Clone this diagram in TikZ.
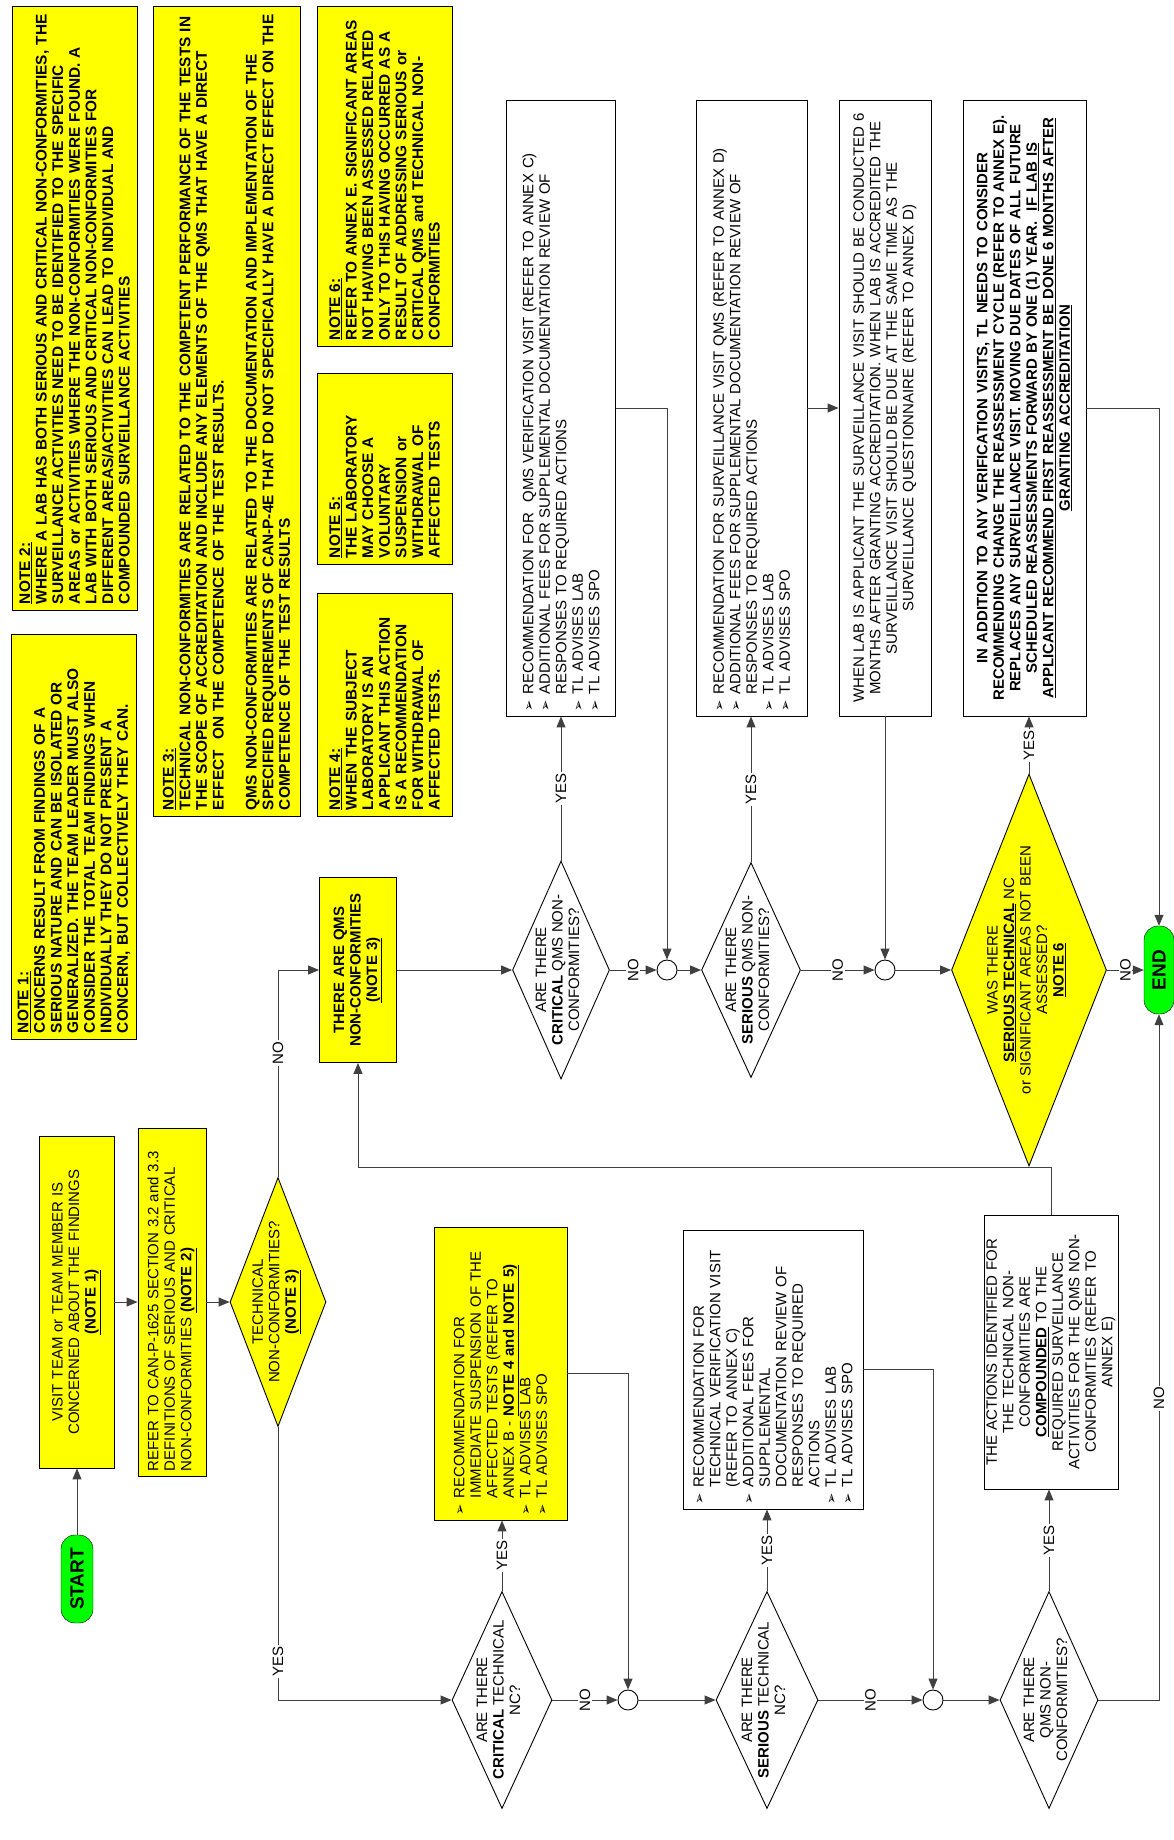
\documentclass[tikz,border=0pt]{standalone}
\usepackage{fontspec}
\setmainfont{Liberation Sans}
\newfontfamily\dingfont{DejaVu Sans}
\usetikzlibrary{arrows.meta,shapes.geometric}
\definecolor{noteyellow}{RGB}{255,255,0}
\definecolor{termgreen}{RGB}{0,255,0}
\newcommand\txt{\fontsize{15}{16.5}\selectfont}
\newcommand\notetxt{\fontsize{15.4}{16.6}\selectfont}
\newcommand\bitem{\makebox[17pt][l]{\dingfont\fontsize{13.5}{13.5}\selectfont ➢}}
\newcommand\bind{\hspace*{17pt}}
\newcommand\dtext[1]{\raisebox{-0.25em}{\smash{\makebox[0pt]{\begin{tabular}{@{}c@{}}#1\end{tabular}}}}}
\tikzset{every node/.append style={font=\txt}}
\tikzset{
  dims/.style 2 args={minimum height=#1, minimum width=#2},
  flowbox/.style={draw, rotate=90, inner sep=5pt, line width=0.9pt},
  notebox/.style={flowbox, fill=noteyellow, align=left, font=\notetxt\bfseries, inner sep=6pt},
  decision/.style={diamond, draw, rotate=90, inner sep=0pt, line width=0.9pt},
  terminal/.style={draw, fill=termgreen, rounded corners=14pt, rotate=90, inner sep=0pt,
    font=\fontsize{19}{19}\selectfont\bfseries},
  junction/.style={circle, draw, minimum size=20pt, inner sep=0pt, line width=0.9pt},
  flow/.style={draw=black!75, line width=1pt},
  arr/.style={flow, -{Triangle[length=11pt,width=9pt]}},
  answer/.style={fill=white, rotate=90, inner sep=1.5pt},
}

\begin{document}
\begin{tikzpicture}[x=1pt,y=-1pt]
\useasboundingbox[fill=white] (0,0) rectangle (1174,1840);

% notes
\node[notebox, dims={125}{604}, text width=592] (note2) at (74.5,308) {\underline{NOTE 2:}\\
WHERE A LAB HAS BOTH SERIOUS AND CRITICAL NON-CONFORMITIES, THE\\
SURVEILLANCE ACTIVITIES NEED TO BE IDENTIFIED TO THE SPECIFIC\\
AREAS or ACTIVITIES WHERE THE NON-CONFORMITIES WERE FOUND.  A\\
LAB WITH BOTH SERIOUS AND CRITICAL NON-CONFORMITIES FOR\\
DIFFERENT AREAS/ACTIVITIES CAN LEAD TO INDIVIDUAL AND\\
COMPOUNDED SURVEILLANCE ACTIVITIES};
\node[notebox, dims={124}{405}, text width=393] (note1) at (74,836.5) {\underline{NOTE 1:}\\
CONCERNS RESULT FROM FINDINGS OF A\\
SERIOUS NATURE AND CAN BE ISOLATED OR\\
GENERALIZED.  THE TEAM LEADER MUST ALSO\\
CONSIDER THE TOTAL TEAM FINDINGS WHEN\\
INDIVIDUALLY THEY DO NOT PRESENT A\\
CONCERN, BUT COLLECTIVELY THEY CAN.};
\node[notebox, dims={147}{810}, text width=798] (note3) at (226.5,411) {\underline{NOTE 3:}\\
TECHNICAL NON-CONFORMITIES ARE RELATED TO THE COMPETENT PERFORMANCE OF THE TESTS IN\\
THE SCOPE OF ACCREDITATION AND INCLUDE ANY ELEMENTS OF THE QMS THAT HAVE A DIRECT\\
EFFECT\ \ ON THE COMPETENCE OF THE TEST RESULTS.\\
\strut\\
QMS NON-CONFORMITIES ARE RELATED TO THE DOCUMENTATION AND IMPLEMENTATION OF THE\\
SPECIFIED REQUIREMENTS OF CAN-P-4E THAT DO NOT SPECIFICALLY HAVE A DIRECT EFFECT ON THE\\
COMPETENCE OF THE TEST RESULTS};
\node[notebox, dims={135}{340}, text width=328] (note6) at (384.5,176) {\underline{NOTE 6:}\\
REFER TO ANNEX E.  SIGNIFICANT AREAS\\
NOT HAVING BEEN ASSESSED RELATED\\
ONLY TO THIS HAVING OCCURRED AS A\\
RESULT OF ADDRESSING SERIOUS or\\
CRITICAL QMS and TECHNICAL NON-\\
CONFORMITIES};
\node[notebox, dims={135}{191}, text width=179] (note5) at (384.5,468.5) {\underline{NOTE 5:}\\
THE LABORATORY\\
MAY CHOOSE A\\
VOLUNTARY\\
SUSPENSION or\\
WITHDRAWAL OF\\
AFFECTED TESTS};
\node[notebox, dims={135}{223}, text width=211] (note4) at (384.5,704.5) {\underline{NOTE 4:}\\
WHEN THE SUBJECT\\
LABORATORY IS AN\\
APPLICANT THIS ACTION\\
IS A RECOMMENDATION\\
FOR WITHDRAWAL OF\\
AFFECTED TESTS.};

% start column
\node[terminal, dims={32}{88}] (start) at (77,1579) {START};
\node[flowbox, fill=noteyellow, dims={75}{332}, text width=322, align=center] (visit) at (76.5,1302)
  {VISIT TEAM or TEAM MEMBER IS\\ CONCERNED ABOUT THE FINDINGS\\ \textbf{\underline{(NOTE 1)}}};
\node[flowbox, fill=noteyellow, dims={68}{348}, text width=338, align=left] (refer) at (172,1302)
  {REFER TO CAN-P-1625 SECTION 3.2 and 3.3\\ DEFINITIONS OF SERIOUS AND CRITICAL\\ NON-CONFORMITIES \textbf{\underline{(NOTE 2)}}};
\node[decision, fill=noteyellow, dims={96}{249}] (tech) at (278,1302)
  {\dtext{TECHNICAL\\ NON-CONFORMITIES?\\ \textbf{\underline{(NOTE 3)}}}};

% technical branch
\node[decision, dims={100}{217}] (ctech) at (502,1700)
  {\dtext{ARE THERE\\ \textbf{CRITICAL} TECHNICAL\\ NC?}};
\node[flowbox, fill=noteyellow, dims={133}{293}, text width=283, align=left] (susp) at (500.5,1373.5)
  {\bitem RECOMMENDATION FOR\\ \bind IMMEDIATE SUSPENSION OF THE\\ \bind AFFECTED TESTS (REFER TO\\
   \bind ANNEX B - \textbf{\underline{NOTE 4 and NOTE 5)}}\\ \bitem TL ADVISES LAB\\ \bitem TL ADVISES SPO};
\node[junction] (j1) at (628,1700) {};
\node[decision, dims={102}{217}] (stech) at (767,1700)
  {\dtext{ARE THERE\\ \textbf{SERIOUS} TECHNICAL\\ NC?}};
\node[flowbox, dims={180}{279}, text width=269, align=left] (verbox) at (773,1369.5)
  {\bitem RECOMMENDATION FOR\\ \bind TECHNICAL VERIFICATION VISIT\\ \bind (REFER TO ANNEX C)\\
   \bitem ADDITIONAL FEES FOR\\ \bind SUPPLEMENTAL\\ \bind DOCUMENTATION REVIEW OF\\
   \bind RESPONSES TO REQUIRED\\ \bind ACTIONS\\ \bitem TL ADVISES LAB\\ \bitem TL ADVISES SPO};
\node[junction] (j2) at (933,1700) {};
\node[decision, dims={98}{217}] (qnc) at (1049,1700)
  {\dtext{ARE THERE\\ QMS NON-\\ CONFORMITIES?}};
\node[flowbox, dims={134}{274}, text width=264, align=center, inner ysep=1pt] (compbox) at (1051,1352)
  {THE ACTIONS IDENTIFIED FOR\\ THE TECHNICAL NON-\\ CONFORMITIES ARE\\ \textbf{\underline{COMPOUNDED}} TO THE\\
   REQUIRED SURVEILLANCE\\ ACTIVITIES FOR THE QMS NON-\\ CONFORMITIES (REFER TO\\ ANNEX E)};

% qms branch
\node[flowbox, fill=noteyellow, dims={77}{185}, text width=175, align=center, font=\txt\bfseries] (qms) at (358,970)
  {THERE ARE QMS\\ NON-CONFORMITIES\\ \underline{(NOTE 3)}};
\node[decision, dims={97}{218}] (critq) at (561,970)
  {\dtext{ARE THERE\\ \textbf{CRITICAL} QMS NON-\\ CONFORMITIES?}};
\node[flowbox, dims={109}{616}, text width=606, align=left] (critqbox) at (561,408)
  {\bitem RECOMMENDATION FOR\ \ QMS VERIFICATION VISIT (REFER TO ANNEX C)\\
   \bitem ADDITIONAL FEES FOR SUPPLEMENTAL DOCUMENTATION REVIEW OF\\
   \bind RESPONSES TO REQUIRED ACTIONS\\ \bitem TL ADVISES LAB\\ \bitem TL ADVISES SPO};
\node[junction] (j3) at (667,970) {};
\node[decision, dims={99}{215}] (serq) at (751,970)
  {\dtext{ARE THERE\\ \textbf{SERIOUS} QMS NON-\\ CONFORMITIES?}};
\node[flowbox, dims={111}{616}, text width=606, align=left] (survbox) at (751.5,408)
  {\bitem RECOMMENDATION FOR SURVEILLANCE VISIT QMS (REFER TO ANNEX D)\\
   \bitem ADDITIONAL FEES FOR SUPPLEMENTAL DOCUMENTATION REVIEW OF\\
   \bind RESPONSES TO REQUIRED ACTIONS\\ \bitem TL ADVISES LAB\\ \bitem TL ADVISES SPO};
\node[flowbox, dims={92}{616}, text width=606, align=center] (whenbox) at (885,408)
  {WHEN LAB IS APPLICANT THE SURVEILLANCE VISIT SHOULD BE CONDUCTED 6\\
   MONTHS AFTER GRANTING ACCREDITATION.  WHEN LAB IS ACCREDITED THE\\
   SURVEILLANCE VISIT SHOULD BE DUE AT THE SAME TIME AS THE\\
   SURVEILLANCE QUESTIONNAIRE (REFER TO ANNEX D)};
\node[junction] (j4) at (885,970) {};
\node[decision, fill=noteyellow, dims={155}{392}] (n6) at (1029,970)
  {\dtext{WAS THERE\\ \textbf{\underline{SERIOUS TECHNICAL}} NC\\ or SIGNIFICANT AREAS NOT BEEN\\ ASSESSED?\\ \textbf{\underline{NOTE 6}}}};
\node[flowbox, dims={123}{616}, text width=606, align=center, font=\txt\bfseries] (addbox) at (1024.5,408)
  {IN ADDITION TO ANY VERIFICATION VISITS, TL NEEDS TO CONSIDER\\
   RECOMMENDING CHANGE THE REASSESSMENT CYCLE (REFER TO ANNEX E).\\
   REPLACES ANY SURVEILLANCE VISIT.  MOVING DUE DATES OF ALL FUTURE\\
   SCHEDULED REASSESSMENTS FORWARD BY ONE (1) YEAR.\ \ \underline{IF LAB IS}\\
   \underline{APPLICANT RECOMMEND FIRST REASSESSMENT BE DONE 6 MONTHS AFTER}\\
   \underline{GRANTING ACCREDITATION}};
\node[terminal, dims={30}{88}] (endn) at (1159,970) {END};

% connectors
\draw[arr] (start.east) -- (start.east |- visit.west);
\draw[arr] (visit.south) -- (refer.north);
\draw[arr] (refer.south) -- (tech.north);
\draw[arr] (tech.east) -- node[answer, pos=0.6] (a1) {NO} (tech.east |- qms.north) -- (qms.north);
\draw[arr] (tech.west) -- node[answer, pos=0.86] (a2) {YES} (tech.west |- ctech.north) -- (ctech.north);

\draw[arr] (ctech.east) -- node[answer] (a3) {YES} (ctech.east |- susp.west);
\draw[arr] (ctech.south) -- node[answer] (a4) {NO} (j1);
\draw[arr] (susp.south) -| (j1);
\draw[arr] (j1) -- (stech.north);
\draw[arr] (stech.east) -- node[answer] (a5) {YES} (stech.east |- verbox.west);
\draw[arr] (stech.south) -- node[answer] (a6) {NO} (j2);
\draw[arr] (verbox.south) -| (j2);
\draw[arr] (j2) -- (qnc.north);
\draw[arr] (qnc.east) -- node[answer] (a7) {YES} (qnc.east |- compbox.west);
\draw[arr] (qnc.south) -| node[answer, pos=0.72] (a8) {NO} (endn.west);
\draw[arr] (compbox.east) -- ++(0,-47) -| (qms.west);

\draw[arr] (qms.south) -- (critq.north);
\draw[arr] (critq.east) -- node[answer] (a9) {YES} (critq.east |- critqbox.west);
\draw[arr] (critq.south) -- node[answer] (a10) {NO} (j3);
\draw[arr] (critqbox.south) -| (j3);
\draw[arr] (j3) -- (serq.north);
\draw[arr] (serq.east) -- node[answer] (a11) {YES} (serq.east |- survbox.west);
\draw[arr] (serq.south) -- node[answer] (a12) {NO} (j4);
\draw[arr] (survbox.south) -- (whenbox.north);
\draw[arr] (whenbox.west) -- (j4);
\draw[arr] (j4) -- (n6.north);
\draw[arr] (n6.east) -- node[answer] (a13) {YES} (n6.east |- addbox.west);
\draw[arr] (n6.south) -- node[answer] (a14) {NO} (endn.north);
\draw[arr] (addbox.south) -| (endn.east);
\end{tikzpicture}
\end{document}
